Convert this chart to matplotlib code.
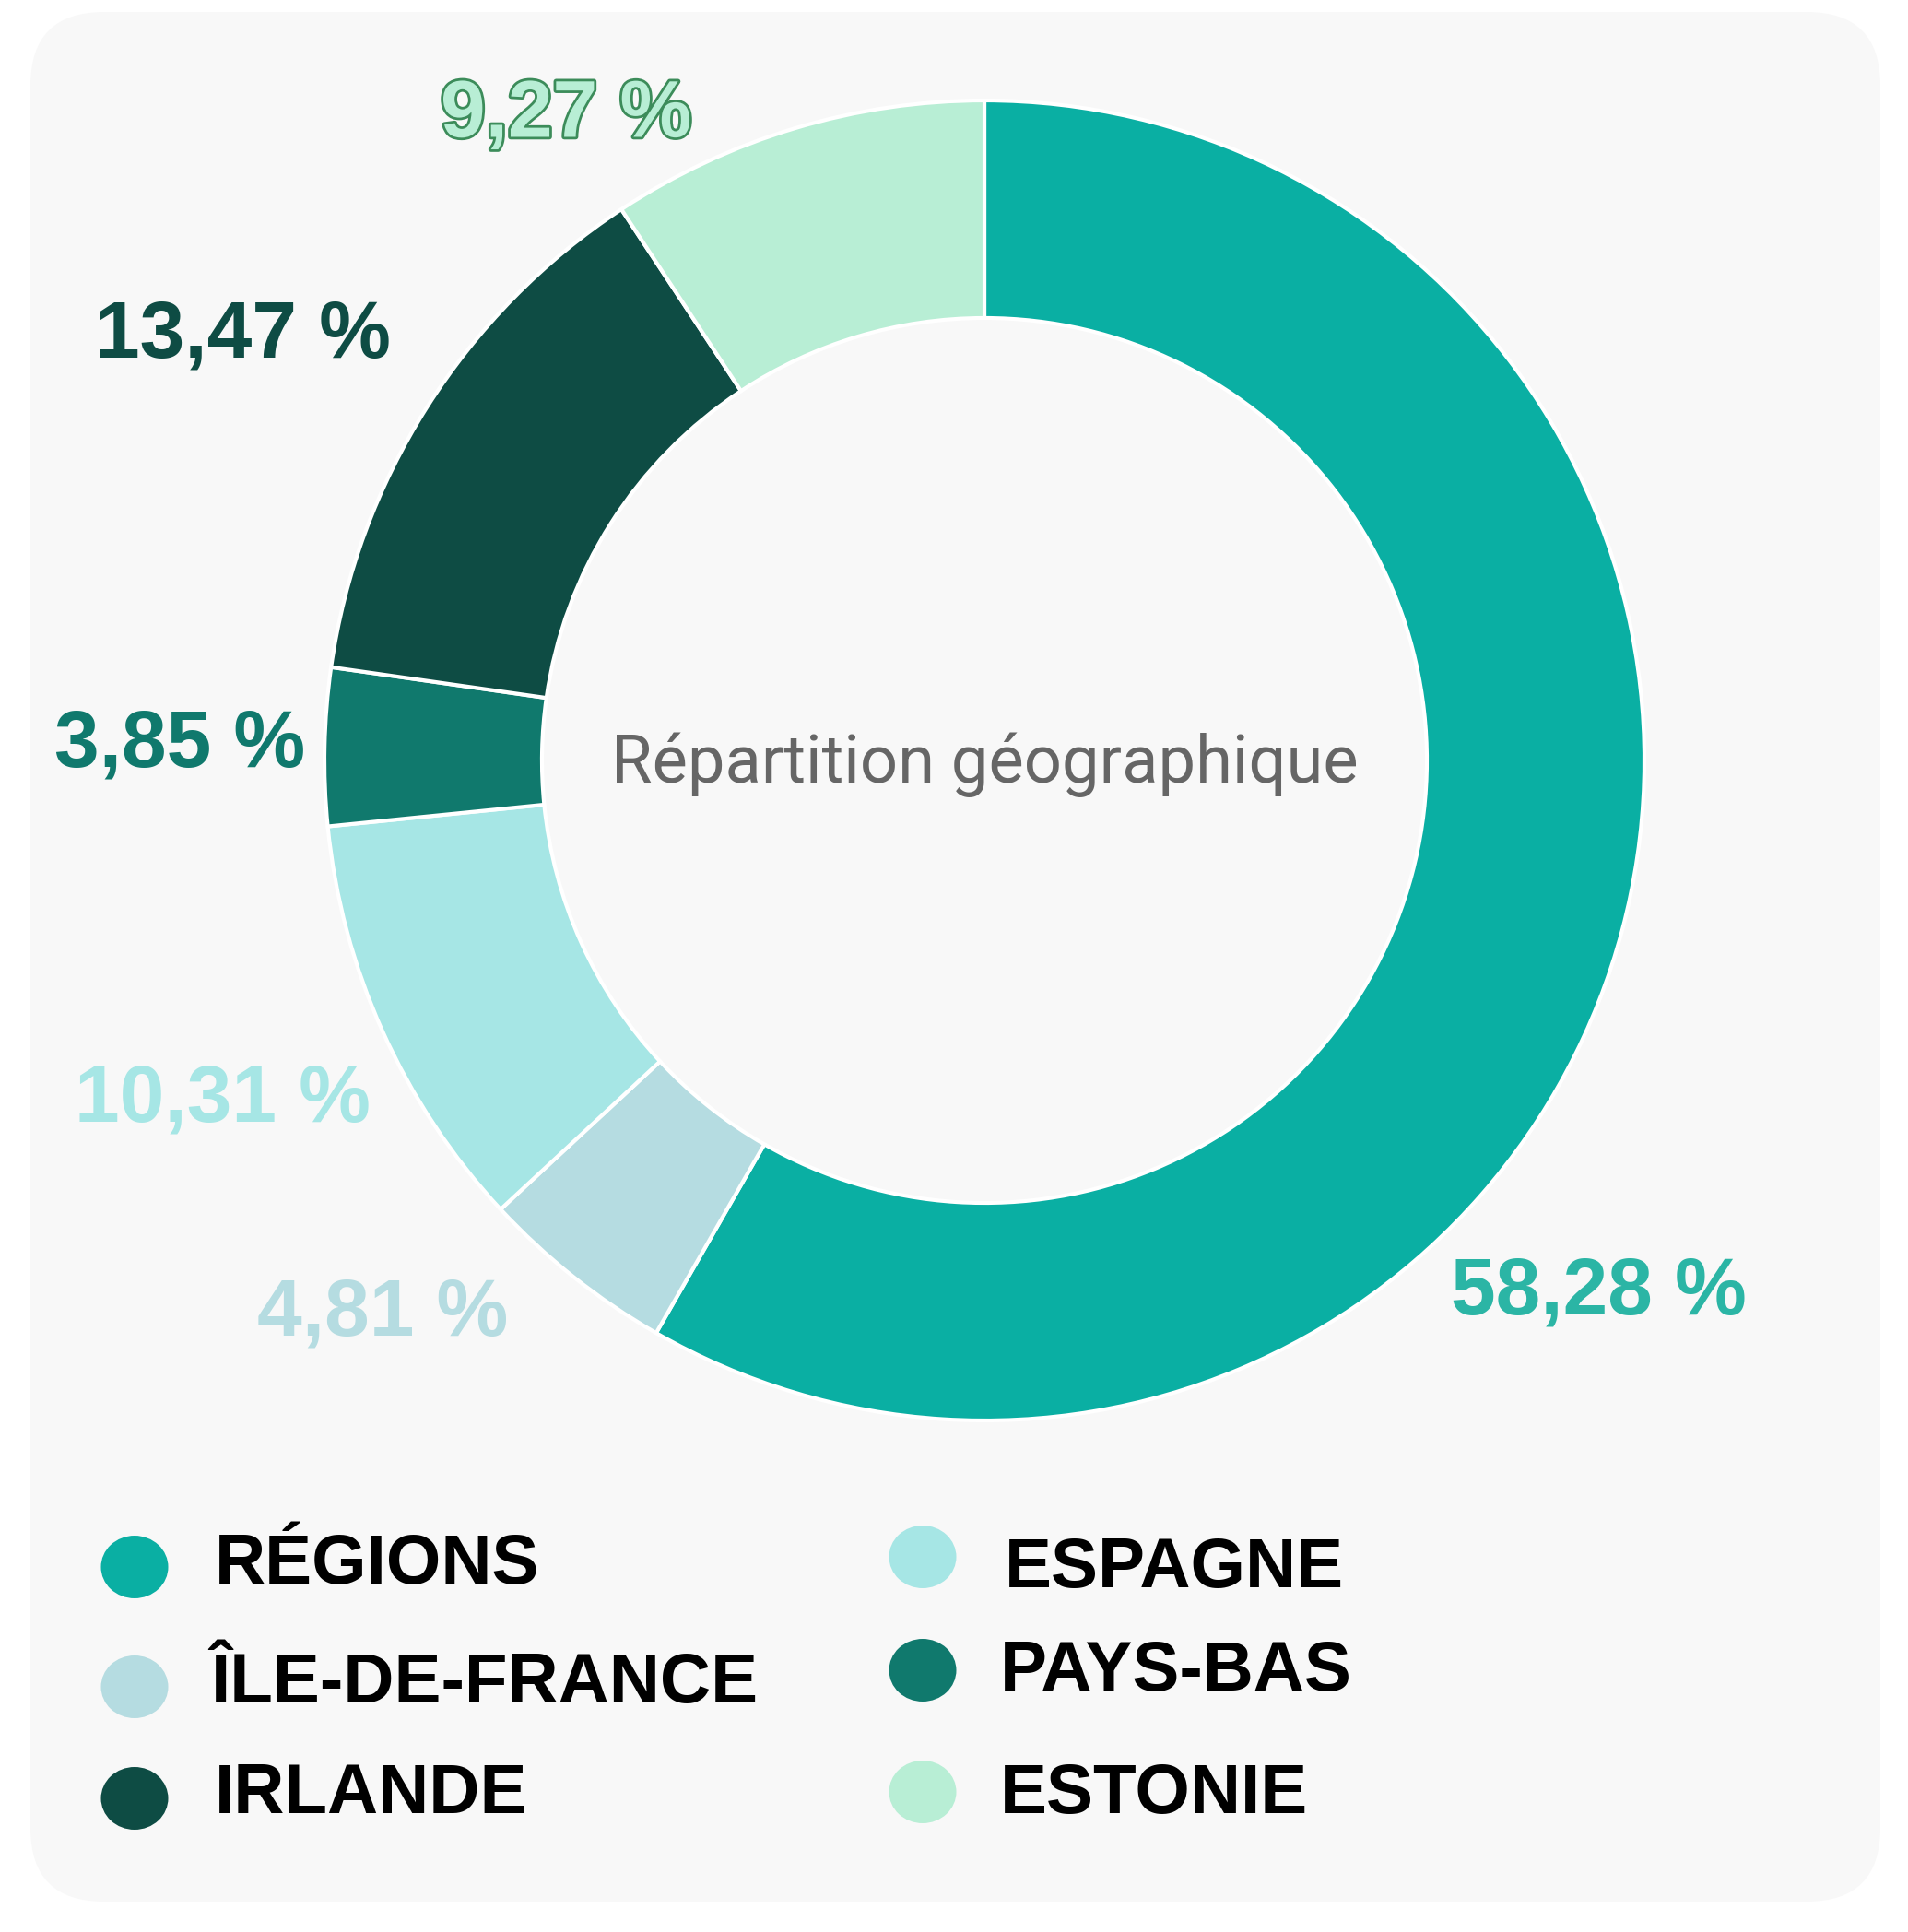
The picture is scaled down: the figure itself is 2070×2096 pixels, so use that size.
import numpy as np
import matplotlib.pyplot as plt
import matplotlib.patheffects as pe
from matplotlib.patches import FancyBboxPatch, Ellipse

# donnees
categories = ['RÉGIONS', 'ÎLE-DE-FRANCE', 'ESPAGNE', 'PAYS-BAS', 'IRLANDE', 'ESTONIE']
values = [58.28, 4.81, 10.31, 3.85, 13.47, 9.27]
colors = ['#0AAFA3', '#B5DCE1', '#A6E6E5', '#10796D', '#0E4C44', '#B8EED5']
label_colors = ['#2BB5A5', '#B5DCE1', '#A6E6E5', '#10796D', '#0E4C44', '#B8EED5']
center_title = 'Répartition géographique'

W, H = 2070, 2096

fig = plt.figure(figsize=(W / 100, H / 100), dpi=100)
fig.patch.set_facecolor('white')
ax = fig.add_axes([0, 0, 1, 1])

def Y(y):
    return H - y

# carte de fond
card = FancyBboxPatch((33, Y(2063)), 2040 - 33, 2063 - 13,
                      boxstyle='round,pad=0,rounding_size=80',
                      facecolor='#F8F8F8', edgecolor='none', zorder=0)
ax.add_patch(card)

cx, cy = 1068, 825
R, r = 716, 480
ax.pie(values, colors=colors, center=(cx, Y(cy)), radius=R, startangle=90,
       counterclock=False,
       wedgeprops=dict(width=R - r, edgecolor='white', linewidth=3))

ax.text(cx, Y(830), center_title, ha='center', va='center', fontsize=52,
        color='#666666', family='Roboto')

# etiquettes de pourcentage
label_pos = [(1734, 1403), (415, 1426), (241, 1194), (195, 809), (263, 365), (614, 126)]
for v, c, (lx, ly), cat in zip(values, label_colors, label_pos, categories):
    txt = f'{v:.2f}'.replace('.', ',') + ' %'
    t = ax.text(lx, Y(ly), txt, ha='center', va='center', fontsize=63,
                fontweight='bold', color=c, family='Liberation Sans')
    if cat == 'ESTONIE':
        t.set_path_effects([pe.Stroke(linewidth=4, foreground='#3C8C5A'), pe.Normal()])

# legende
marker_pos = [(146, 1700), (146, 1830), (146, 1951), (1001, 1689), (1001, 1812), (1001, 1944)]
text_pos = [(233, 1718), (228, 1847), (233, 1967), (1090, 1722), (1085, 1834), (1085, 1967)]
legend_order = [0, 1, 4, 2, 3, 5]
for k, i in enumerate(legend_order):
    mx, my = marker_pos[k]
    ax.add_patch(Ellipse((mx, Y(my)), 73, 68, facecolor=colors[i], edgecolor='none'))
    tx, ty = text_pos[k]
    ax.text(tx, Y(ty), categories[i], ha='left', va='baseline', fontsize=55,
            fontweight='bold', color='black', family='Liberation Sans')

ax.set_xlim(0, W)
ax.set_ylim(0, H)
ax.set_aspect('equal')
ax.axis('off')

fig.savefig('out.png', dpi=100, facecolor='white')
